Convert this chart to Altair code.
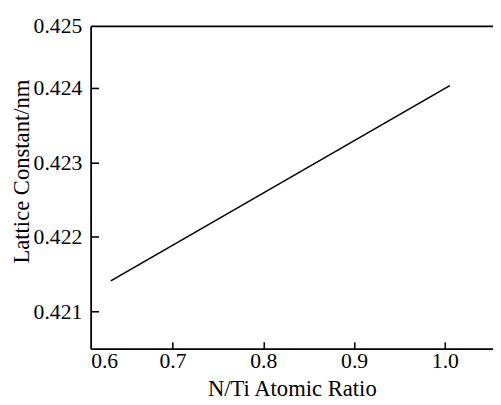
import altair as alt
import pandas as pd

ratio = [0.632, 1.0054]
lattice = [0.42141, 0.42403]
# axis ends (labelled as 0.6 and 0.425 in the original figure)
x_domain = [0.6098, 1.053]
y_domain = [0.4205, 0.42483]
x_label_values = [0.6098, 0.7, 0.8, 0.9, 1.0]
x_tick_values = [0.7, 0.8, 0.9, 1.0]
y_label_values = [0.421, 0.422, 0.423, 0.424, 0.42483]
y_tick_values = [0.421, 0.422, 0.423, 0.424]

df = pd.DataFrame({"ratio": ratio, "lattice": lattice})

W, H = 409, 328
FONT = "Liberation Serif"
xs = alt.Scale(domain=x_domain, nice=False, zero=False)
ys = alt.Scale(domain=y_domain, nice=False, zero=False)

base = alt.Chart(df)

main = base.mark_line(color="black", strokeWidth=1.6).encode(
    x=alt.X("ratio:Q", scale=xs, axis=alt.Axis(
        orient="bottom", values=x_label_values, format=".1f", ticks=False,
        title="N/Ti Atomic Ratio", labelPadding=2,
        titleY=48, titleBaseline="alphabetic")),
    y=alt.Y("lattice:Q", scale=ys, axis=alt.Axis(
        orient="left", values=y_label_values, format=".3f", ticks=False,
        title="Lattice Constant/nm", labelPadding=9,
        titleX=-63, titleY=147.5, titleBaseline="alphabetic", titleAlign="center")),
)

inner_ticks = base.mark_line(strokeOpacity=0).encode(
    x=alt.X("ratio:Q", scale=xs, axis=alt.Axis(
        orient="top", values=x_tick_values, offset=-H, labels=False, domain=False,
        ticks=True, tickSize=7, title=None)),
    y=alt.Y("lattice:Q", scale=ys, axis=alt.Axis(
        orient="right", values=y_tick_values, offset=-W, labels=False, domain=False,
        ticks=True, tickSize=8, title=None)),
)

top_border = base.mark_line(strokeOpacity=0).encode(
    x=alt.X("ratio:Q", scale=xs, axis=alt.Axis(
        orient="top", labels=False, ticks=False, domain=True, title=None, grid=False)),
    y=alt.Y("lattice:Q", scale=ys, axis=None),
)

chart = alt.layer(main, inner_ticks, top_border).resolve_scale(
    x="shared", y="shared"
).resolve_axis(x="independent", y="independent").properties(
    width=W, height=H,
    autosize=alt.AutoSizeParams(type="none"),
    padding={"left": 84, "top": 15, "right": 0, "bottom": 54},
).configure_view(stroke=None).configure_axis(
    grid=False, domainColor="black", domainWidth=1.8, tickColor="black", tickWidth=1.6,
    labelFont=FONT, titleFont=FONT, labelFontSize=22, titleFontSize=23,
    labelColor="black", titleColor="black", titleFontWeight="normal",
)

chart.save("out.html", embed_options={"renderer": "svg", "actions": False})
